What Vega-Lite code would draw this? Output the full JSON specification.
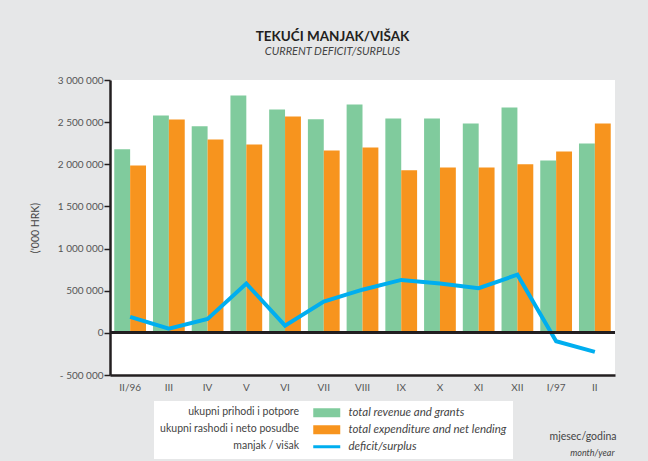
{
  "$schema": "https://vega.github.io/schema/vega-lite/v6.json",
  "width": 505,
  "height": 295,
  "autosize": {"type": "none"},
  "padding": {"left": 110, "top": 80, "right": 33, "bottom": 86},
  "background": "#e6e7e8",
  "config": {
    "view": {"fill": "white", "stroke": null},
    "font": "Lato"
  },
  "title": {
    "text": "TEKUĆI MANJAK/VIŠAK",
    "subtitle": "CURRENT DEFICIT/SURPLUS",
    "anchor": "middle",
    "frame": "group",
    "dx": -30,
    "offset": 18,
    "font": "Lato",
    "fontSize": 13.5,
    "fontWeight": "bold",
    "color": "#231f20",
    "subtitleFont": "Lato",
    "subtitleFontSize": 11,
    "subtitleFontStyle": "italic",
    "subtitleColor": "#444444",
    "subtitlePadding": 3
  },
  "data": {
    "values": [
      {"m": "II/96", "s": "total revenue and grants", "v": 2177000},
      {"m": "II/96", "s": "total expenditure and net lending", "v": 1987000},
      {"m": "II/96", "s": "deficit/surplus", "v": 190000},
      {"m": "III", "s": "total revenue and grants", "v": 2580000},
      {"m": "III", "s": "total expenditure and net lending", "v": 2530000},
      {"m": "III", "s": "deficit/surplus", "v": 50000},
      {"m": "IV", "s": "total revenue and grants", "v": 2450000},
      {"m": "IV", "s": "total expenditure and net lending", "v": 2295000},
      {"m": "IV", "s": "deficit/surplus", "v": 165000},
      {"m": "V", "s": "total revenue and grants", "v": 2817000},
      {"m": "V", "s": "total expenditure and net lending", "v": 2236000},
      {"m": "V", "s": "deficit/surplus", "v": 585000},
      {"m": "VI", "s": "total revenue and grants", "v": 2651000},
      {"m": "VI", "s": "total expenditure and net lending", "v": 2568000},
      {"m": "VI", "s": "deficit/surplus", "v": 85000},
      {"m": "VII", "s": "total revenue and grants", "v": 2533000},
      {"m": "VII", "s": "total expenditure and net lending", "v": 2165000},
      {"m": "VII", "s": "deficit/surplus", "v": 370000},
      {"m": "VIII", "s": "total revenue and grants", "v": 2710000},
      {"m": "VIII", "s": "total expenditure and net lending", "v": 2200000},
      {"m": "VIII", "s": "deficit/surplus", "v": 512000},
      {"m": "IX", "s": "total revenue and grants", "v": 2544000},
      {"m": "IX", "s": "total expenditure and net lending", "v": 1928000},
      {"m": "IX", "s": "deficit/surplus", "v": 628000},
      {"m": "X", "s": "total revenue and grants", "v": 2544000},
      {"m": "X", "s": "total expenditure and net lending", "v": 1963000},
      {"m": "X", "s": "deficit/surplus", "v": 585000},
      {"m": "XI", "s": "total revenue and grants", "v": 2485000},
      {"m": "XI", "s": "total expenditure and net lending", "v": 1963000},
      {"m": "XI", "s": "deficit/surplus", "v": 530000},
      {"m": "XII", "s": "total revenue and grants", "v": 2675000},
      {"m": "XII", "s": "total expenditure and net lending", "v": 1999000},
      {"m": "XII", "s": "deficit/surplus", "v": 690000},
      {"m": "I/97", "s": "total revenue and grants", "v": 2046000},
      {"m": "I/97", "s": "total expenditure and net lending", "v": 2153000},
      {"m": "I/97", "s": "deficit/surplus", "v": -100000},
      {"m": "II", "s": "total revenue and grants", "v": 2248000},
      {"m": "II", "s": "total expenditure and net lending", "v": 2485000},
      {"m": "II", "s": "deficit/surplus", "v": -225000}
    ]
  },
  "resolve": {"axis": {"y": "independent"}},
  "layer": [
    {
      "transform": [{"filter": "datum.s !== 'deficit/surplus'"}],
      "mark": {"type": "bar"},
      "encoding": {
        "x": {
          "field": "m",
          "type": "nominal",
          "scale": {
            "domain": ["II/96", "III", "IV", "V", "VI", "VII", "VIII", "IX", "X", "XI", "XII", "I/97", "II"],
            "paddingInner": 0.18,
            "paddingOuter": 0.11
          },
          "axis": {
            "labelAngle": 0,
            "ticks": false,
            "domainColor": "#231f20",
            "domainWidth": 2.5,
            "labelColor": "#555555",
            "labelFont": "Lato",
            "labelFontSize": 10,
            "labelPadding": 7,
            "title": "mjesec/godina",
            "titleFont": "Lato",
            "titleFontSize": 10.5,
            "titleFontWeight": "normal",
            "titleColor": "#444444",
            "titleX": 506,
            "titleY": 61,
            "titleAlign": "right",
            "titleBaseline": "middle"
          }
        },
        "xOffset": {
          "field": "s",
          "type": "nominal",
          "scale": {"domain": ["total revenue and grants", "total expenditure and net lending"]}
        },
        "y": {
          "field": "v",
          "type": "quantitative",
          "scale": {"domain": [-500000, 3000000], "nice": false, "zero": false},
          "axis": {
            "values": [-500000, 0, 500000, 1000000, 1500000, 2000000, 2500000, 3000000],
            "labelExpr": "(datum.value < 0 ? '- ' : '') + replace(replace(format(abs(datum.value), ','), ',', ' '), ',', ' ')",
            "grid": false,
            "domainColor": "#231f20",
            "domainWidth": 2.5,
            "tickColor": "#231f20",
            "tickWidth": 1.5,
            "tickSize": 6,
            "labelPadding": 1,
            "labelColor": "#555555",
            "labelFont": "Lato",
            "labelFontSize": 10,
            "title": "('000 HRK)",
            "titleFont": "Lato",
            "titleFontSize": 10.5,
            "titleFontWeight": "normal",
            "titleColor": "#444444",
            "titlePadding": 17
          }
        },
        "color": {
          "field": "s",
          "type": "nominal",
          "scale": {
            "domain": ["total revenue and grants", "total expenditure and net lending", "deficit/surplus"],
            "range": ["#80cb9d", "#f7941e", "#00aeef"]
          },
          "legend": {
            "orient": "none",
            "legendX": 44,
            "legendY": 321,
            "title": ["ukupni prihodi i potpore", "ukupni rashodi i neto posudbe", "manjak / višak"],
            "titleOrient": "left",
            "titleAlign": "right",
            "titleAnchor": "start",
            "titleBaseline": "top",
            "titleLineHeight": 17,
            "titleFont": "Lato",
            "titleFontSize": 10.5,
            "titleFontWeight": "normal",
            "titleColor": "#444444",
            "titlePadding": -117,
            "titleLimit": 400,
            "labelFont": "Lato",
            "labelFontStyle": "italic",
            "labelFontSize": 11.5,
            "labelColor": "#444444",
            "labelOffset": 16,
            "labelLimit": 400,
            "symbolType": "M-2.7,-0.9H2.7V0.9H-2.7Z",
            "symbolSize": 100,
            "symbolStrokeWidth": 0,
            "rowPadding": 4,
            "fillColor": "white",
            "padding": 6,
            "encode": {
              "symbols": {
                "update": {
                  "shape": {"signal": "datum.value === 'deficit/surplus' ? 'M-2.7,-0.3H2.7V0.3H-2.7Z' : 'M-2.7,-0.9H2.7V0.9H-2.7Z'"}
                }
              }
            }
          }
        }
      }
    },
    {
      "transform": [{"filter": "datum.s === 'deficit/surplus'"}],
      "mark": {"type": "line", "strokeWidth": 4, "strokeJoin": "miter"},
      "encoding": {
        "x": {"field": "m", "type": "nominal"},
        "y": {
          "field": "v",
          "type": "quantitative",
          "axis": {
            "orient": "right",
            "domain": false,
            "ticks": false,
            "labels": false,
            "grid": false,
            "title": "month/year",
            "titleAngle": 0,
            "titleFont": "Lato",
            "titleFontStyle": "italic",
            "titleFontWeight": "normal",
            "titleFontSize": 9,
            "titleColor": "#444444",
            "titleX": -1,
            "titleY": 372,
            "titleAlign": "right",
            "titleBaseline": "middle"
          }
        },
        "color": {"field": "s", "type": "nominal"}
      }
    },
    {
      "mark": {"type": "rule", "color": "#231f20", "strokeWidth": 2},
      "encoding": {
        "y": {"datum": 0, "type": "quantitative", "axis": null}
      }
    }
  ]
}
